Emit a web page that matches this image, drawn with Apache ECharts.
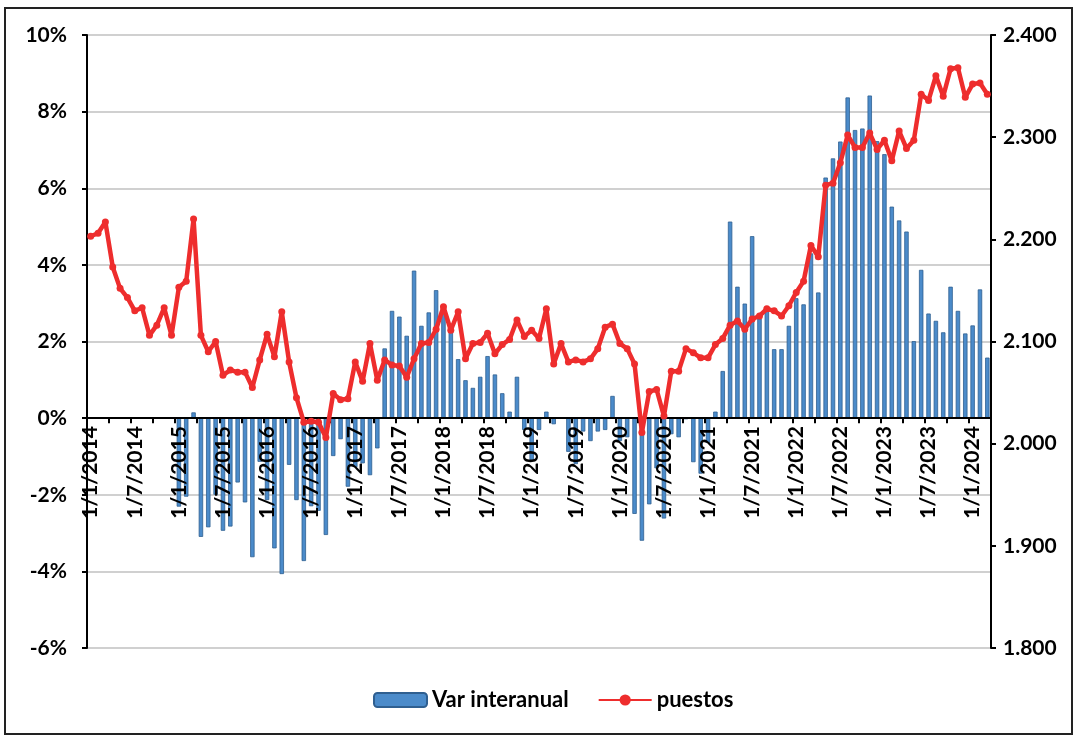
<!DOCTYPE html>
<html><head><meta charset="utf-8">
<script src="https://cdn.jsdelivr.net/npm/echarts@6/dist/echarts.min.js"></script>
<style>html,body{margin:0;padding:0;background:#fff}#c{width:1075px;height:736px}</style>
</head><body><div id="c"></div>
<script>
// Monthly categories Jan 2014 .. Mar 2024, labelled d/m/yyyy
const startYear = 2014, monthCount = 123;
const categories = [];
for (let k = 0; k < monthCount; k++) {
  categories.push('1/' + (k % 12 + 1) + '/' + (startYear + Math.floor(k / 12)));
}

// Year-on-year variation (%), no value in 2014
const varInteranual = [
  null,null,null,null,null,null,null,null,null,null,null,null,
  -2.31,-2.05,0.15,-3.10,-2.85,-2.0,-2.94,-2.83,-1.68,-2.20,-3.63,-1.14,
  -2.14,-3.40,-4.07,-1.22,-2.14,-3.73,-2.3,-2.42,-3.05,-0.99,-0.55,-1.79,
  -1.28,-1.18,-1.49,-0.79,1.82,2.80,2.65,2.15,3.85,2.41,2.76,3.34,
  2.75,2.35,1.54,0.99,0.79,1.08,1.62,1.14,0.65,0.17,1.08,-0.31,
  -1.1,-0.31,0.17,-0.16,-0.02,-0.88,-1.2,-0.35,-0.60,-0.35,-0.31,0.58,
  -0.6,-0.50,-2.50,-3.20,-2.25,-1.31,-2.62,-0.42,-0.50,-0.03,-1.15,-1.45,
  -0.65,0.17,1.23,5.13,3.43,2.99,4.75,2.6,2.85,1.80,1.80,2.41,
  3.13,2.97,4.3,3.28,6.28,6.78,7.22,8.37,7.52,7.56,8.42,7.23,
  6.89,5.52,5.16,4.87,2.01,3.87,2.73,2.54,2.24,3.43,2.80,2.21,
  2.42,3.36,1.58
];

// Jobs (thousands)
const puestos = [
  2203,2206,2217,2173,2152,2143,2130,2133,2106,2116,2133,2106,
  2153,2159,2220,2106,2090,2100,2067,2072,2070,2070,2055,2082,
  2107,2085,2129,2080,2045,2021,2022,2021,2006,2049,2043,2044,
  2080,2061,2098,2062,2082,2077,2076,2065,2083,2098,2099,2112,
  2134,2111,2129,2083,2098,2099,2108,2088,2097,2102,2121,2105,
  2111,2103,2132,2078,2098,2080,2082,2080,2083,2093,2114,2117,
  2098,2093,2078,2011,2051,2053,2027,2071,2071,2093,2089,2084,
  2084,2097,2103,2116,2120,2112,2122,2125,2132,2130,2125,2135,
  2148,2159,2194,2183,2253,2255,2275,2302,2290,2290,2304,2288,
  2297,2277,2306,2289,2297,2342,2336,2360,2340,2367,2368,2339,
  2352,2353,2342
];

const leftAxisTicks = [-6,-4,-2,0,2,4,6,8,10];
const rightAxisTicks = [1800,1900,2000,2100,2200,2300,2400];
const seriesNames = ['Var interanual','puestos'];

const FONT = 'Lato';
const GRID_TOP = 35, GRID_BOTTOM = 88, H = 736;
const plotH = H - GRID_TOP - GRID_BOTTOM;
const lMin = leftAxisTicks[0], lMax = leftAxisTicks[leftAxisTicks.length - 1];
// move the category axis up to the 0% line
const zeroOffset = -(plotH * (0 - lMin) / (lMax - lMin));

const chart = echarts.init(document.getElementById('c'), null, {renderer:'canvas'});
chart.setOption({
  animation: false,
  backgroundColor: '#fff',
  graphic: [{
    type: 'rect', z: -10, silent: true,
    shape: {x: 5, y: 8, width: 1067, height: 726},
    style: {fill: 'none', stroke: '#222', lineWidth: 2}
  }],
  grid: {left: 87, right: 84, top: GRID_TOP, bottom: GRID_BOTTOM, containLabel: false, outerBoundsMode: 'none'},
  legend: {
    data: seriesNames, left: 368, top: 684,
    itemWidth: 53, itemHeight: 14, itemGap: 29,
    textStyle: {fontFamily: FONT, fontWeight: 'bold', fontSize: 22, color: '#000'}
  },
  xAxis: {
    type: 'category', data: categories, boundaryGap: true, z: 3,
    offset: zeroOffset,
    axisLine: {onZero: false, lineStyle: {color: '#000', width: 2}},
    axisTick: {show: true, interval: 2, length: 5, lineStyle: {color: '#000', width: 2}},
    axisLabel: {interval: 5, rotate: 90, margin: 8, fontFamily: FONT, fontWeight: 'bold', fontSize: 21, color: '#000'},
    splitLine: {show: false}
  },
  yAxis: [{
    type: 'value', min: lMin, max: lMax, interval: 2,
    axisLine: {show: true, lineStyle: {color: '#000', width: 2}},
    axisTick: {show: true, length: 5, lineStyle: {color: '#000', width: 2}},
    axisLabel: {formatter: v => v + '%', margin: 20, fontFamily: FONT, fontWeight: 'bold', fontSize: 21, color: '#000'},
    splitLine: {show: true, lineStyle: {color: '#d0d0d0', width: 2}}
  }, {
    type: 'value', min: rightAxisTicks[0], max: rightAxisTicks[rightAxisTicks.length-1], interval: 100,
    position: 'right',
    axisLine: {show: true, lineStyle: {color: '#000', width: 2}},
    axisTick: {show: true, length: 5, lineStyle: {color: '#000', width: 2}},
    axisLabel: {formatter: v => (v / 1000).toFixed(3), margin: 12, fontFamily: FONT, fontWeight: 'bold', fontSize: 21, color: '#000'},
    splitLine: {show: false}
  }],
  series: [{
    name: seriesNames[0], type: 'bar', yAxisIndex: 0, data: varInteranual,
    barWidth: '60%', z: 2,
    itemStyle: {color: '#4b8bca', borderColor: '#2f5f90', borderWidth: 0.8}
  }, {
    name: seriesNames[1], type: 'line', yAxisIndex: 1, data: puestos, z: 5,
    symbol: 'circle', symbolSize: 7, showSymbol: true, showAllSymbol: true,
    lineStyle: {color: '#ee2d2d', width: 4.5},
    itemStyle: {color: '#ee2d2d'}
  }]
});
</script></body></html>
